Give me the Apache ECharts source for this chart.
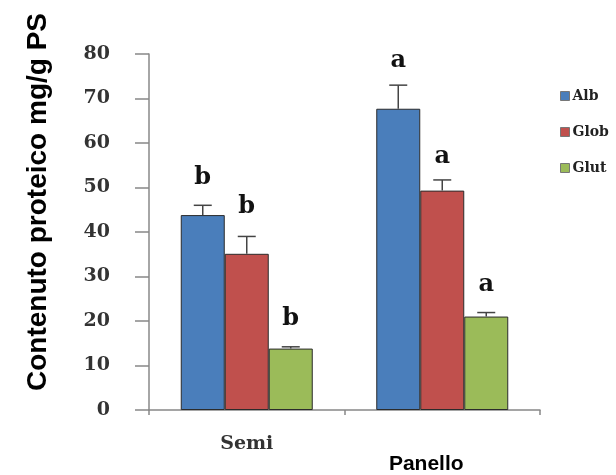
<!DOCTYPE html>
<html><head><meta charset="utf-8">
<script src="https://cdn.jsdelivr.net/npm/echarts@6/dist/echarts.min.js"></script>
<style>html,body{margin:0;padding:0;background:#fff}#c{width:616px;height:475px}</style>
</head><body><div id="c"></div>
<script>
var categories = ['Semi', 'Panello'];
var seriesNames = ['Alb', 'Glob', 'Glut'];
var albValues = [43.8, 67.7];
var globValues = [35.1, 49.3];
var glutValues = [13.8, 21.0];
var albErrTop = [46.0, 73.0];
var globErrTop = [39.0, 51.7];
var glutErrTop = [14.2, 21.9];
var albLetters = ['b', 'a'];
var globLetters = ['b', 'a'];
var glutLetters = ['b', 'a'];
var yTicks = [0, 10, 20, 30, 40, 50, 60, 70, 80];

var colors = ['#4a7ebb', '#c0504d', '#9bbb59'];
var BAR_W = 44;
var serif = '"DejaVu Serif", "Liberation Serif", serif';
var values = [albValues, globValues, glutValues];
var errTops = [albErrTop, globErrTop, glutErrTop];
var letters = [albLetters, globLetters, glutLetters];
var letterGaps = [[16, 12], [18, 11], [16, 16]];

var chart = echarts.init(document.getElementById('c'));
var series = [];
seriesNames.forEach(function (n, i) {
  series.push({
    name: n, type: 'bar', barWidth: BAR_W, barGap: '0%',
    data: values[i],
    itemStyle: { color: colors[i], borderColor: '#2b2b2b', borderWidth: 1 },
    z: 2
  });
});
seriesNames.forEach(function (n, i) {
  series.push({
    type: 'custom',
    data: categories.map(function (c, k) { return [k, values[i][k], errTops[i][k]]; }),
    z: 3,
    renderItem: function (params, api) {
      var k = api.value(0);
      var base = api.coord([k, api.value(1)]);
      var top = api.coord([k, api.value(2)]);
      var x = base[0] + (i - 1) * BAR_W;
      var gap = letterGaps[i][k];
      return {
        type: 'group',
        children: [
          { type: 'line', shape: { x1: x, y1: base[1], x2: x, y2: top[1] }, style: { stroke: '#444', lineWidth: 1.5 } },
          { type: 'line', shape: { x1: x - 9, y1: top[1], x2: x + 9, y2: top[1] }, style: { stroke: '#444', lineWidth: 1.5 } },
          { type: 'text', x: x, y: top[1] - gap, style: { text: letters[i][k], font: 'bold 24px ' + serif, fill: '#111', align: 'center', verticalAlign: 'bottom' } }
        ]
      };
    }
  });
});

chart.setOption({
  animation: false,
  backgroundColor: '#fff',
  grid: { left: 149, right: 76, top: 54, bottom: 56, containLabel: false },
  legend: {
    orient: 'vertical', left: 560, top: 89, padding: 0, data: seriesNames,
    icon: 'rect', itemWidth: 9, itemHeight: 9, itemGap: 22,
    itemStyle: { borderColor: '#777', borderWidth: 1 },
    textStyle: { fontFamily: serif, fontWeight: 'bold', fontSize: 14, color: '#222', padding: [0, 0, 0, -2] }
  },
  xAxis: {
    type: 'category', data: categories,
    axisLine: { lineStyle: { color: '#888', width: 1.5 } },
    axisTick: { show: true, length: 5, lineStyle: { color: '#888', width: 1.5 } },
    axisLabel: {
      margin: 25,
      formatter: function (v) { return v === 'Semi' ? '{s|' + v + '}' : '{p|' + v + '}'; },
      rich: {
        s: { fontFamily: serif, fontWeight: 'bold', fontSize: 19, color: '#333' },
        p: { fontFamily: '"Liberation Sans", Arial, sans-serif', fontWeight: 'bold', fontSize: 21, color: '#000', padding: [19, 32, 0, 0] }
      }
    }
  },
  yAxis: {
    type: 'value', min: 0, max: 80, interval: 10,
    axisLine: { show: true, lineStyle: { color: '#888', width: 1.5 } },
    axisTick: { show: true, length: 14, lineStyle: { color: '#888', width: 1.5 } },
    splitLine: { show: false },
    axisLabel: {
      margin: 39, fontFamily: serif, fontWeight: 'bold', fontSize: 19, color: '#333',
      formatter: function (v) { return yTicks.indexOf(v) >= 0 ? String(v) : ''; }
    }
  },
  graphic: [{
    type: 'text', x: 38, y: 202, rotation: Math.PI / 2,
    style: { text: 'Contenuto proteico mg/g PS', font: 'bold 28px "Liberation Sans", Arial, sans-serif', fill: '#000', align: 'center', verticalAlign: 'middle' }
  }],
  series: series
});
</script></body></html>
